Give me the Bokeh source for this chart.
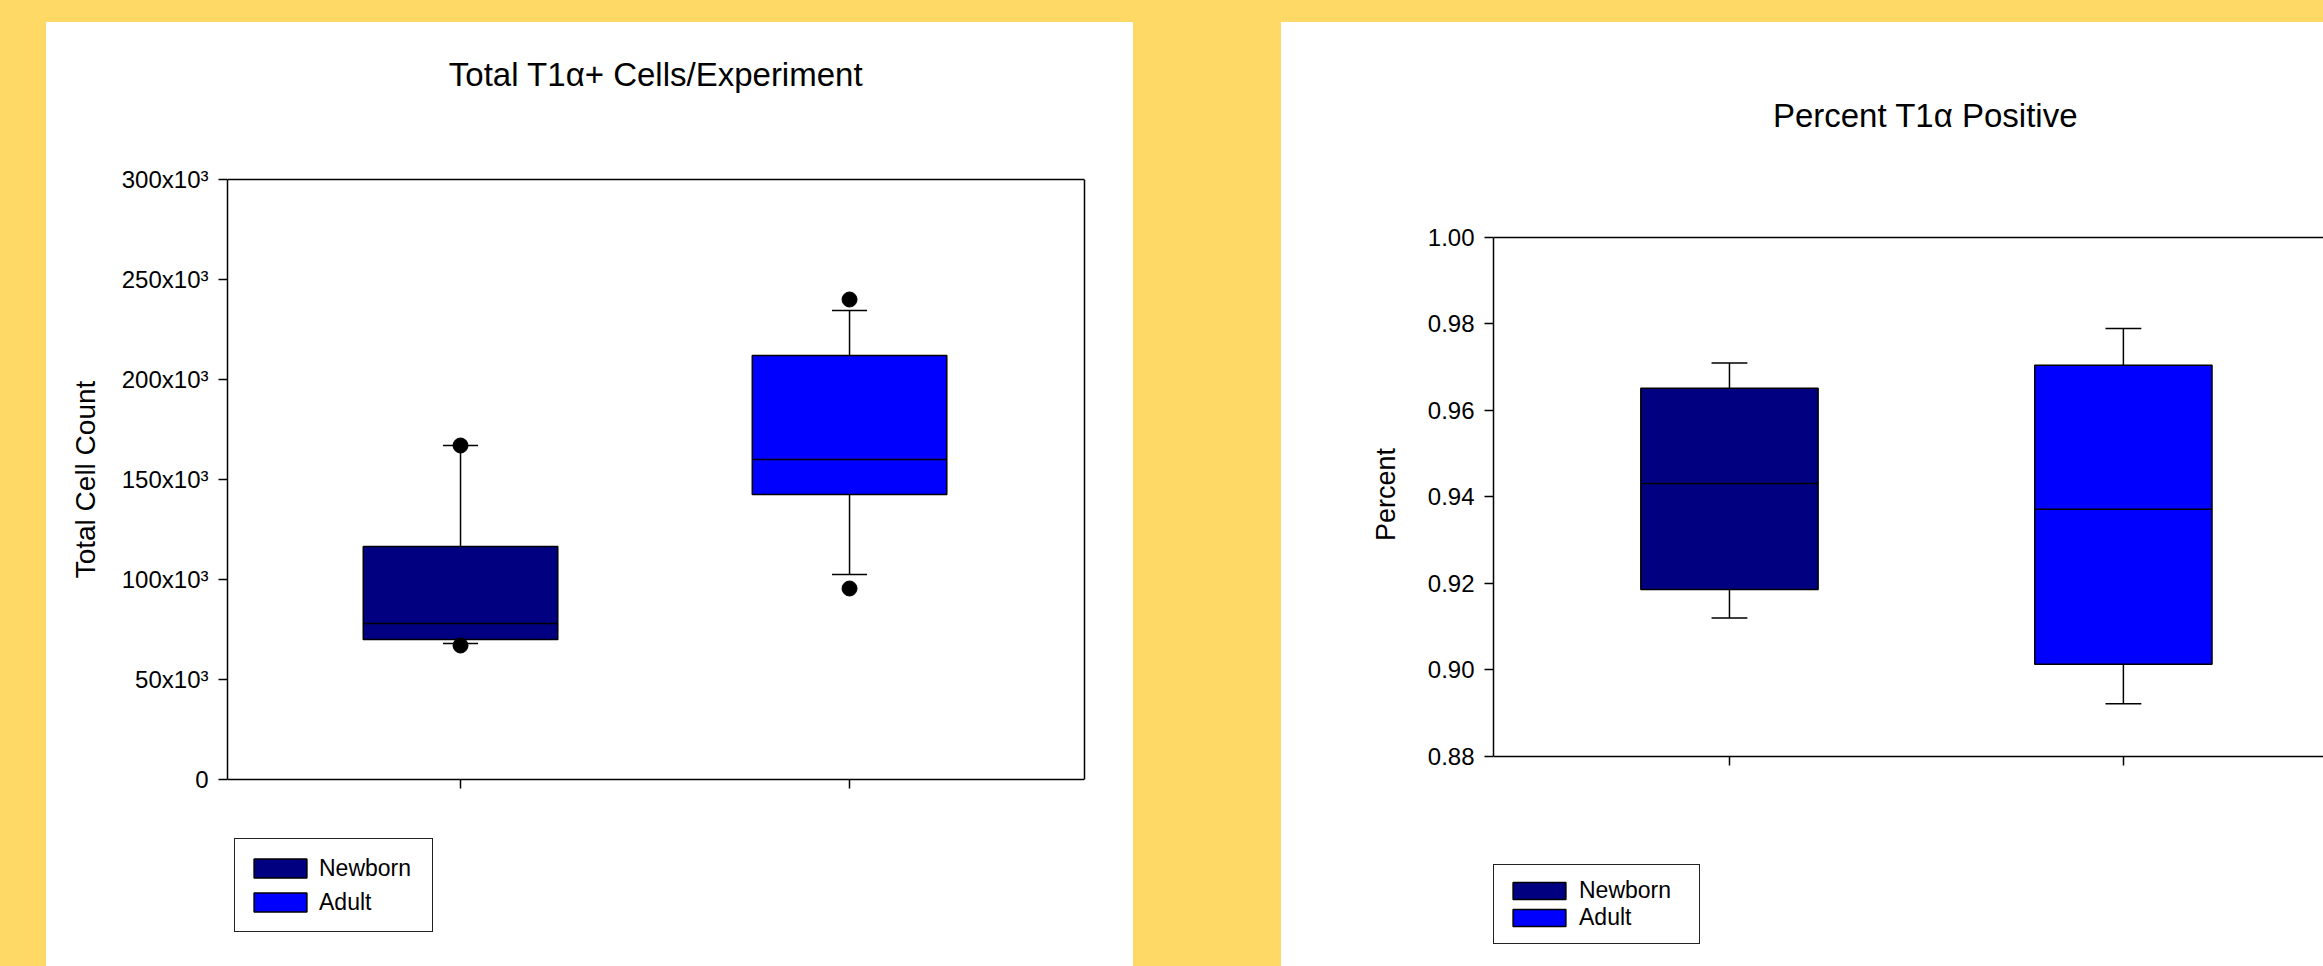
from bokeh.plotting import figure
from bokeh.models import (Legend, LegendItem, Label, FixedTicker, Range1d, LinearAxis,
                          CustomJSTickFormatter)
from bokeh.embed import file_html
from bokeh.resources import INLINE

# ---------------- data ----------------
groups = ["Newborn", "Adult"]
positions = [1, 2]
group_colors = ["#000080", "#0000FF"]

# Panel 1: Total T1a+ cells / experiment
cells_q1 = [70000, 142500]
cells_median = [78000, 160000]
cells_q3 = [116500, 212000]
cells_whisker_low = [68000, 102500]
cells_whisker_high = [167000, 234500]
cells_outlier_x = [1, 1, 2, 2]
cells_outlier_y = [167000, 67000, 240000, 95500]
cells_ticks = [0, 50000, 100000, 150000, 200000, 250000, 300000]
cells_tick_labels = ["0", "50x10³", "100x10³", "150x10³", "200x10³", "250x10³", "300x10³"]
cells_axis = (0, 300000)

# Panel 2: Percent T1a positive
pct_q1 = [0.9186, 0.9013]
pct_median = [0.9431, 0.9371]
pct_q3 = [0.9651, 0.9704]
pct_whisker_low = [0.912, 0.8922]
pct_whisker_high = [0.9709, 0.9789]
pct_ticks = [0.88, 0.90, 0.92, 0.94, 0.96, 0.98, 1.00]
pct_tick_labels = ["0.88", "0.90", "0.92", "0.94", "0.96", "0.98", "1.00"]
pct_axis = (0.88, 1.00)

FONT = "Liberation Sans"
BG = "#FFD966"
FIG_TOP = 22          # page y of the white panels
FIG_H = 944


def make_panel(title, ylabel, q1, med, q3, lo, hi, out_x, out_y, ticks, labels, axis_span,
               x_range, left, width, border_lr, border_tb, box_px, box_w, cap_w,
               title_xy, legend_loc, legend_cfg, ylabel_cfg, right_edge):
    # the frame spans most of the white panel; the drawn axis box is a sub-part of it
    mbt, mbb = border_tb
    frame_top = FIG_TOP + mbt
    frame_bot = FIG_TOP + FIG_H - mbb
    y0, y1 = axis_span
    ptop, pbot = box_px            # page y of axis top / axis bottom
    k = (pbot - ptop) / (y1 - y0)
    y_range = (y0 - (frame_bot - pbot) / k, y1 + (ptop - frame_top) / k)

    bl, br = border_lr
    p = figure(width=width, height=FIG_H, output_backend="svg", toolbar_location=None,
               x_range=Range1d(*x_range), y_range=Range1d(*y_range),
               min_border_left=bl, min_border_right=br, min_border_top=mbt, min_border_bottom=mbb,
               styles={"position": "absolute", "left": "%dpx" % left, "top": "%dpx" % FIG_TOP,
                       "background-color": "white"})
    p.background_fill_color = "white"
    p.border_fill_color = "white"
    p.outline_line_color = None
    p.grid.visible = False
    xa = p.below[0]
    ya = p.left[0]

    # top edge of the axis box
    top_axis = LinearAxis(ticker=FixedTicker(ticks=[]), fixed_location=y1,
                          axis_line_color="black", axis_line_width=1.5,
                          major_tick_line_color=None, minor_tick_line_color=None,
                          major_tick_out=0, minor_tick_out=0, major_label_standoff=0,
                          major_label_text_font_size="0px")
    p.add_layout(top_axis, "above")
    if right_edge:
        r_axis = LinearAxis(ticker=FixedTicker(ticks=[]), bounds=axis_span,
                            axis_line_color="black", axis_line_width=1.5,
                            major_tick_line_color=None, minor_tick_line_color=None,
                            major_tick_out=0, minor_tick_out=0, major_label_standoff=0,
                            major_label_text_font_size="0px")
        p.add_layout(r_axis, "right")

    # whisker stems
    p.segment(x0=positions, y0=q3, x1=positions, y1=hi, line_color="black", line_width=1.5)
    p.segment(x0=positions, y0=q1, x1=positions, y1=lo, line_color="black", line_width=1.5)

    renderers = []
    for i, g in enumerate(groups):
        r = p.vbar(x=[positions[i]], width=box_w, top=[q3[i]], bottom=[q1[i]],
                   fill_color=group_colors[i], line_color="black", line_width=1.5)
        renderers.append(r)

    # medians
    p.segment(x0=[x - box_w / 2 for x in positions], x1=[x + box_w / 2 for x in positions],
              y0=med, y1=med, line_color="black", line_width=1.5)
    # caps
    p.segment(x0=[x - cap_w / 2 for x in positions], x1=[x + cap_w / 2 for x in positions],
              y0=hi, y1=hi, line_color="black", line_width=1.5)
    p.segment(x0=[x - cap_w / 2 for x in positions], x1=[x + cap_w / 2 for x in positions],
              y0=lo, y1=lo, line_color="black", line_width=1.5)
    if out_x:
        p.scatter(x=out_x, y=out_y, size=15, color="black")

    # axes
    ya.ticker = FixedTicker(ticks=ticks)
    ya.bounds = axis_span
    ya.major_label_overrides = {t: l for t, l in zip(ticks, labels)}
    ya.axis_label = ylabel
    ya.axis_label_text_font = FONT
    ya.axis_label_text_font_style = "normal"
    ya.axis_label_text_font_size = ylabel_cfg["size"]
    ya.axis_label_text_color = "black"
    ya.axis_label_standoff = ylabel_cfg["standoff"]
    ya.major_label_text_font = FONT
    ya.major_label_text_font_size = "24px"
    ya.major_label_text_color = "black"
    ya.major_label_standoff = 10
    for ax in (ya, xa):
        ax.axis_line_color = "black"
        ax.axis_line_width = 1.5
        ax.major_tick_line_color = "black"
        ax.major_tick_line_width = 1.5
        ax.major_tick_out = 9
        ax.major_tick_in = 0
        ax.minor_tick_line_color = None
        ax.minor_tick_out = 0
    xa.fixed_location = y0
    xa.ticker = FixedTicker(ticks=positions)
    xa.formatter = CustomJSTickFormatter(code="return ''")
    xa.major_label_text_font_size = "0px"
    xa.major_label_standoff = 0

    # title (inside the frame, above the axis box)
    p.add_layout(Label(x=title_xy[0], y=frame_bot - title_xy[1], x_units="screen", y_units="screen",
                       text=title, text_font=FONT, text_font_size="33px", text_color="black",
                       text_align="center", text_baseline="middle"))

    legend = Legend(items=[LegendItem(label=g, renderers=[r]) for g, r in zip(groups, renderers)],
                    location=(legend_loc[0], frame_bot - legend_loc[1]), orientation="vertical",
                    label_text_font=FONT, label_text_font_size="23px",
                    label_text_color="black",
                    glyph_width=66, glyph_height=legend_cfg["gh"],
                    label_height=legend_cfg["lh"], label_width=legend_cfg["lw"],
                    label_standoff=legend_cfg["standoff"], padding=12, spacing=0,
                    margin=0, border_line_color="#222222", border_line_width=1.5,
                    border_line_alpha=1.0,
                    background_fill_color="white", background_fill_alpha=1.0)
    p.add_layout(legend, "center")
    return p


p1 = make_panel("Total T1α+ Cells/Experiment", "Total Cell Count",
                cells_q1, cells_median, cells_q3, cells_whisker_low, cells_whisker_high,
                cells_outlier_x, cells_outlier_y, cells_ticks, cells_tick_labels, cells_axis,
                (0.401, 2.604), 46, 1087, (181, 49), (2, 32), (179, 779),
                0.5, 0.09, (428.5, 74), (7, 932),
                {"gh": 24, "lh": 34, "lw": 101, "standoff": 6},
                {"size": "28px", "standoff": 18}, True)

p2 = make_panel("Percent T1α Positive", "Percent",
                pct_q1, pct_median, pct_q3, pct_whisker_low, pct_whisker_high,
                [], [], pct_ticks, pct_tick_labels, pct_axis,
                (0.401, 2.508), 1281, 1042, (212, 0), (15, 15), (236.6, 756),
                0.45, 0.091, (432, 114.6), (0, 944),
                {"gh": 21, "lh": 27, "lw": 108, "standoff": 7},
                {"size": "27px", "standoff": 24}, False)

html = file_html([p1, p2], INLINE, title="T1a box plots")
style = ("<style>html, body { margin: 0 !important; padding: 0 !important; "
         "background: %s !important; overflow: hidden; }</style>" % BG)
html = html.replace("</head>", style + "</head>", 1)
open("out.html", "w").write(html)
